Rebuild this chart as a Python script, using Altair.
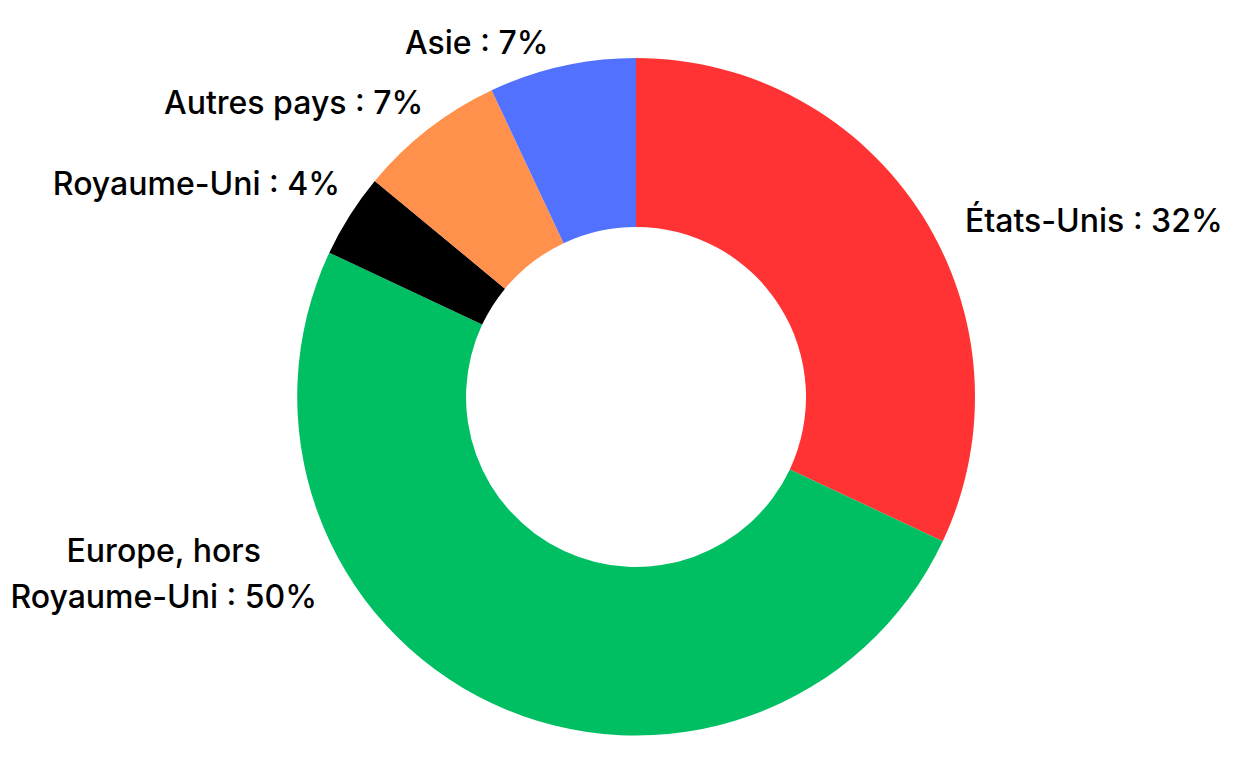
import altair as alt
import pandas as pd

categories = ["États-Unis", "Europe, hors\nRoyaume-Uni", "Royaume-Uni", "Autres pays", "Asie"]
values = [32, 50, 4, 7, 7]
colors = ["#FF3333", "#00BF63", "#000000", "#FF914D", "#5271FF"]

df = pd.DataFrame({
    "category": categories,
    "value": values,
    "order": list(range(len(categories))),
})
df["label"] = [f"{c} : {v}%" for c, v in zip(categories, values)]

CX, CY = 628, 389
theta_scale = alt.Scale(domain=[0, 100])
color_scale = alt.Scale(domain=categories, range=colors)

base = alt.Chart(df).transform_window(
    cum="sum(value)", sort=[alt.SortField("order")], frame=[None, 0]
).transform_calculate(
    start="datum.cum - datum.value",
    mid="datum.cum - datum.value / 2",
)

arcs = base.mark_arc(outerRadius=339, innerRadius=170).encode(
    theta=alt.Theta("start:Q", scale=theta_scale),
    theta2="cum:Q",
    color=alt.Color("category:N", scale=color_scale, legend=None),
    x=alt.value(CX),
    y=alt.value(CY),
)

# per-label placement: (category index, align, dx, dy)
placements = [
    (0, "left", 25, 18),
    (1, "center", -319, -171),
    (2, "right", 8, -19),
    (3, "right", 8, -9),
    (4, "right", -9, -2),
]

layers = [arcs]
for idx, align, dx, dy in placements:
    cat = categories[idx]
    t = base.transform_filter(alt.datum.category == cat).mark_text(
        font="Inter", fontSize=32, fontWeight=500, color="#000000",
        align=align, baseline="middle", dx=dx, dy=dy,
        lineBreak="\n", lineHeight=46,
    ).encode(
        theta=alt.Theta("mid:Q", scale=theta_scale),
        radius=alt.value(360),
        text="label:N",
        x=alt.value(CX),
        y=alt.value(CY),
    )
    layers.append(t)

chart = alt.layer(*layers).properties(
    width=1223, height=753, autosize=alt.AutoSizeParams(type="none"), padding=0,
    background="white",
).configure_view(stroke=None)

chart.save("out.html", embed_options={"renderer": "svg", "actions": False})
